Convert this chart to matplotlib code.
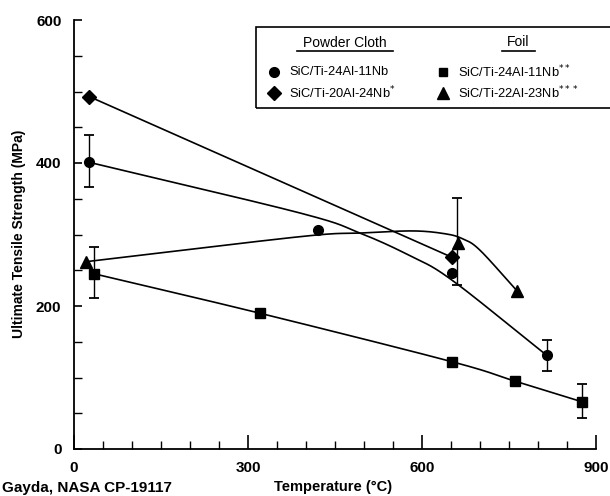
import numpy as np
import matplotlib
matplotlib.use("Agg")
import matplotlib.pyplot as plt
from matplotlib.patches import Rectangle
from matplotlib.lines import Line2D

plt.rcParams['font.family'] = ['Liberation Sans', 'DejaVu Sans']

# ---- data ----
# Powder cloth SiC/Ti-24Al-11Nb (circles)
circ_T = [26, 421, 652, 815]
circ_S = [402, 306, 246, 131]
circ_fit_T = [26, 390, 493, 580, 652, 815]
circ_fit_S = [401, 330, 302, 270, 236, 131]

# Powder cloth SiC/Ti-20Al-24Nb* (diamonds)
diam_T = [26, 652]
diam_S = [493, 268]
diam_fit_T = [26, 652]
diam_fit_S = [493, 268]

# Foil SiC/Ti-24Al-11Nb** (squares)
sq_T = [35, 320, 652, 760, 876]
sq_S = [245, 190, 122, 95, 66]

# Foil SiC/Ti-22Al-23Nb*** (triangles)
tri_T = [21, 662, 764]
tri_S = [262, 288, 221]
tri_fit_T = [21, 390, 493, 584, 640, 670, 700, 764]
tri_fit_S = [262, 297, 302, 305, 301, 294, 278, 221]

# error bars: (T, low, high)
err_T = [26, 35, 660, 815, 876]
err_lo = [366, 211, 229, 109, 43]
err_hi = [439, 283, 351, 152, 91]

xticks = [0, 300, 600, 900]
yticks = [0, 200, 400, 600]


def smooth(xs, ys, n=40):
    xs = np.asarray(xs, float); ys = np.asarray(ys, float)
    if len(xs) < 3:
        return xs, ys
    P = np.column_stack([xs, ys])
    P = np.vstack([2 * P[0] - P[1], P, 2 * P[-1] - P[-2]])
    out = []
    for i in range(1, len(P) - 2):
        p0, p1, p2, p3 = P[i - 1], P[i], P[i + 1], P[i + 2]
        t = np.linspace(0, 1, n, endpoint=False)[:, None]
        c = 0.5 * ((2 * p1) + (-p0 + p2) * t + (2 * p0 - 5 * p1 + 4 * p2 - p3) * t ** 2
                   + (-p0 + 3 * p1 - 3 * p2 + p3) * t ** 3)
        out.append(c)
    out.append(P[-2][None, :])
    out = np.vstack(out)
    return out[:, 0], out[:, 1]


fig = plt.figure(figsize=(6.10, 4.96), dpi=100)
ax = fig.add_axes([74 / 610, 1 - 449 / 496, (596 - 74) / 610, (449 - 20) / 496])

lw = 1.2
curves = [smooth(circ_fit_T, circ_fit_S),
          (np.array(diam_fit_T), np.array(diam_fit_S)),
          smooth(sq_T, sq_S),
          smooth(tri_fit_T, tri_fit_S)]
for sx, sy in curves:
    ax.plot(sx, sy, color='black', lw=lw, clip_on=False)

ax.plot(circ_T, circ_S, 'o', color='black', ms=7, clip_on=False)
ax.plot(diam_T, diam_S, 'D', color='black', ms=7, clip_on=False)
ax.plot(sq_T, sq_S, 's', color='black', ms=6.5, clip_on=False)
ax.plot(tri_T, tri_S, '^', color='black', ms=8, clip_on=False)

mid = [(l + h) / 2 for l, h in zip(err_lo, err_hi)]
half = [(h - l) / 2 for l, h in zip(err_lo, err_hi)]
ax.errorbar(err_T, mid, yerr=half, fmt='none', ecolor='black', elinewidth=1.0,
            capsize=3.5, capthick=1.3, clip_on=False)

ax.set_xlim(0, 900)
ax.set_ylim(0, 600)
for s in ['top', 'right']:
    ax.spines[s].set_visible(False)
for s in ['left', 'bottom']:
    ax.spines[s].set_linewidth(1.3)

ax.set_xticks(xticks)
ax.set_yticks(yticks)
ax.set_xticks(np.arange(0, 901, 50), minor=True)
ax.set_yticks(np.arange(0, 601, 50), minor=True)
ax.tick_params(axis='both', which='major', direction='in', length=10, width=1.2,
               labelsize=11, pad=9)
ax.tick_params(axis='both', which='minor', direction='in', length=6, width=1.0)
ax.tick_params(axis='y', which='major', length=6)
for lab in ax.get_xticklabels() + ax.get_yticklabels():
    lab.set_fontweight('bold')

fig.text(19 / 610, 1 - 234 / 496, 'Ultimate Tensile Strength (MPa)', rotation=90,
         ha='center', va='center', fontsize=10, fontweight='bold')
fig.text(333 / 610, 1 - 487 / 496, 'Temperature (°C)', ha='center', va='center',
         fontsize=10.5, fontweight='bold')
fig.text(2 / 610, 1 - 495 / 496, 'Gayda, NASA CP-19117', ha='left', va='bottom',
         fontsize=11, fontweight='bold')

# legend box
box = Rectangle((256 / 610, 1 - 108 / 496), (640 - 256) / 610, (108 - 27) / 496,
                transform=fig.transFigure, fill=False, lw=1.2, ec='black')
fig.add_artist(box)

fig.text(345 / 610, 1 - 43 / 496, 'Powder Cloth', ha='center', va='center', fontsize=10)
fig.text(518 / 610, 1 - 42 / 496, 'Foil', ha='center', va='center', fontsize=10)
fig.add_artist(Line2D([297 / 610, 393 / 610], [1 - 51 / 496] * 2, transform=fig.transFigure,
                      color='black', lw=1.2))
fig.add_artist(Line2D([502 / 610, 535 / 610], [1 - 51 / 496] * 2, transform=fig.transFigure,
                      color='black', lw=1.2))

entries = [
    (274, 72, 'o', 7, 'SiC/Ti-24Al-11Nb'),
    (274, 93, 'D', 7, 'SiC/Ti-20Al-24Nb$^{*}$'),
    (443, 72, 's', 6, 'SiC/Ti-24Al-11Nb$^{**}$'),
    (443, 93, '^', 8, 'SiC/Ti-22Al-23Nb$^{***}$'),
]
for px, py, mk, ms, lab in entries:
    fig.add_artist(Line2D([px / 610], [1 - py / 496], transform=fig.transFigure,
                          marker=mk, ms=ms, color='black', ls='none'))
    fig.text((px + 15) / 610, 1 - py / 496, lab, ha='left', va='center', fontsize=9.3)

fig.savefig('out.png', dpi=100)
